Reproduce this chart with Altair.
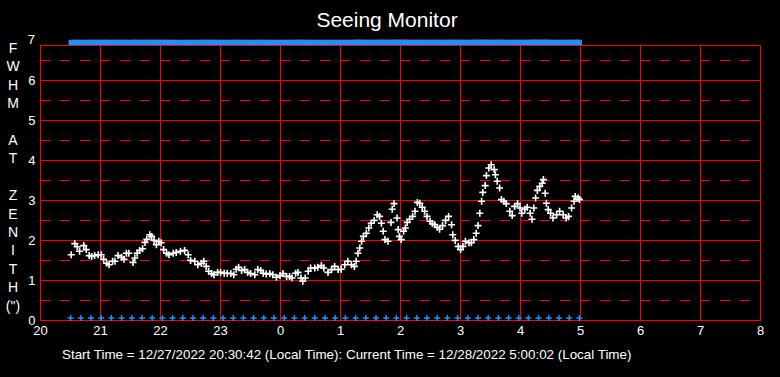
import altair as alt
import pandas as pd

TITLE = "Seeing Monitor"
FOOTER = "Start Time  =  12/27/2022  20:30:42 (Local Time): Current Time  =  12/28/2022 5:00:02  (Local Time)"
# vertical axis title, written one letter per line in three word blocks
Y_TITLE_WORDS = [["F", "W", "H", "M"], ["A", "T"], ["Z", "E", "N", "I", "T", "H", "(\")"]]
X_TICKS = list(range(20, 33))          # 20..23, 0..8 (hours past 24 wrap)
Y_TICKS = [0, 1, 2, 3, 4, 5, 6]
Y_TOP_LABEL = "7"
Y_HALF = [0.5, 1.5, 2.5, 3.5, 4.5, 5.5, 6.5]
HOURS = list(range(20, 32))

# FWHM samples (decimal local hour, >24 means after midnight)
TIME = [20.52, 20.58, 20.62, 20.66, 20.73, 20.77, 20.82, 20.86, 20.91, 20.97,
        21.02, 21.06, 21.11, 21.15, 21.21, 21.25, 21.30, 21.36, 21.40, 21.44,
        21.48, 21.55, 21.58, 21.62, 21.66, 21.71, 21.75, 21.78, 21.83, 21.86,
        21.90, 21.94, 21.98, 22.02, 22.06, 22.11, 22.15, 22.22, 22.27, 22.34,
        22.41, 22.47, 22.51, 22.58, 22.63, 22.69, 22.73, 22.77, 22.81, 22.86,
        22.90, 22.96, 23.01, 23.07, 23.12, 23.18, 23.23, 23.27, 23.31, 23.36,
        23.41, 23.46, 23.51, 23.58, 23.63, 23.68, 23.72, 23.77, 23.83, 23.88,
        23.94, 24.00, 24.05, 24.11, 24.16, 24.20, 24.26, 24.30, 24.35, 24.38,
        24.42, 24.47, 24.51, 24.58, 24.63, 24.69, 24.73, 24.80, 24.86, 24.91,
        24.97, 25.02, 25.08, 25.13, 25.19, 25.24, 25.27, 25.30, 25.33, 25.36,
        25.39, 25.44, 25.48, 25.52, 25.57, 25.62, 25.66, 25.69, 25.72, 25.75,
        25.80, 25.85, 25.87, 25.90, 25.95, 25.97, 25.99, 26.02, 26.06, 26.09,
        26.12, 26.16, 26.21, 26.25, 26.29, 26.33, 26.37, 26.41, 26.45, 26.50,
        26.54, 26.58, 26.62, 26.66, 26.71, 26.76, 26.81, 26.86, 26.88, 26.92,
        26.97, 27.01, 27.05, 27.09, 27.15, 27.19, 27.23, 27.27, 27.30, 27.33,
        27.36, 27.38, 27.42, 27.44, 27.48, 27.52, 27.57, 27.59, 27.62, 27.66,
        27.69, 27.73, 27.77, 27.83, 27.87, 27.91, 27.96, 28.00, 28.03, 28.08,
        28.12, 28.17, 28.20, 28.23, 28.26, 28.29, 28.33, 28.37, 28.39, 28.42,
        28.44, 28.47, 28.51, 28.55, 28.61, 28.66, 28.72, 28.77, 28.81, 28.86,
        28.90, 28.92, 28.97, 28.99]
FWHM = [1.63, 1.91, 1.83, 1.72, 1.86, 1.76, 1.61, 1.59, 1.61, 1.63,
        1.63, 1.52, 1.42, 1.38, 1.47, 1.47, 1.61, 1.57, 1.52, 1.67,
        1.67, 1.44, 1.55, 1.67, 1.74, 1.78, 1.94, 2.02, 2.13, 2.09,
        1.99, 1.88, 1.97, 1.93, 1.76, 1.67, 1.63, 1.67, 1.69, 1.72,
        1.74, 1.63, 1.49, 1.47, 1.38, 1.42, 1.47, 1.34, 1.22, 1.16,
        1.13, 1.19, 1.19, 1.17, 1.17, 1.16, 1.13, 1.27, 1.32, 1.24,
        1.26, 1.19, 1.16, 1.13, 1.26, 1.24, 1.17, 1.15, 1.16, 1.13,
        1.07, 1.11, 1.16, 1.09, 1.09, 1.05, 1.17, 1.19, 1.05, 0.97,
        1.05, 1.22, 1.30, 1.30, 1.32, 1.36, 1.30, 1.19, 1.26, 1.34,
        1.26, 1.27, 1.38, 1.47, 1.38, 1.34, 1.47, 1.67, 1.80, 1.97,
        2.09, 2.17, 2.30, 2.42, 2.49, 2.63, 2.59, 2.42, 2.22, 2.01,
        1.97, 2.44, 2.77, 2.91, 2.55, 2.26, 2.09, 2.01, 2.22, 2.30,
        2.44, 2.52, 2.59, 2.72, 2.94, 2.92, 2.82, 2.72, 2.59, 2.47,
        2.41, 2.38, 2.32, 2.27, 2.36, 2.49, 2.59, 2.38, 2.13, 1.99,
        1.84, 1.76, 1.84, 1.97, 1.93, 1.93, 2.01, 2.17, 2.36, 2.67,
        2.97, 3.19, 3.36, 3.61, 3.80, 3.88, 3.76, 3.63, 3.47, 3.30,
        3.01, 2.97, 2.91, 2.72, 2.61, 2.84, 2.91, 2.80, 2.67, 2.77,
        2.82, 2.67, 2.52, 2.80, 3.05, 3.24, 3.34, 3.42, 3.51, 3.17,
        2.92, 2.76, 2.67, 2.55, 2.63, 2.72, 2.63, 2.55, 2.59, 2.80,
        2.97, 3.09, 3.05, 3.01]

# Periodic status markers along the bottom
FLAG_TIME = [20.51, 20.68, 20.85, 21.02, 21.19, 21.36, 21.53, 21.70, 21.87, 22.04,
             22.21, 22.38, 22.55, 22.72, 22.89, 23.05, 23.22, 23.39, 23.56, 23.73,
             23.90, 24.07, 24.24, 24.41, 24.58, 24.75, 24.92, 25.09, 25.26, 25.43,
             25.60, 25.77, 25.94, 26.11, 26.28, 26.45, 26.62, 26.79, 26.96, 27.13,
             27.30, 27.47, 27.64, 27.81, 27.98, 28.14, 28.31, 28.48, 28.65, 28.82,
             28.99]
FLAG_LOW = 0.05
FLAG_HIGH = 6.94

RED = "#ff0000"
BLUE = "#1e90ff"
FONT = "Liberation Sans"
PLUS = "M-1,0L1,0M0,-1L0,1"
LINE_H = 18.4

xs = alt.Scale(domain=[20, 32], nice=False, zero=False)
ys = alt.Scale(domain=[0, 6.875], nice=False, zero=False)

df = pd.DataFrame({"t": TIME, "v": FWHM})
flags = pd.DataFrame({"t": FLAG_TIME, "v": [FLAG_LOW] * len(FLAG_TIME)})
top = pd.DataFrame({"t": TIME, "v": [FLAG_HIGH] * len(TIME)})
half = pd.DataFrame([{"h": h, "h2": h + 1, "y": y} for h in HOURS for y in Y_HALF])

x_axis = alt.Axis(values=X_TICKS, labelExpr="datum.value % 24", grid=True,
                  gridColor=RED, gridWidth=1, gridOpacity=1, domainColor=RED,
                  ticks=False, labelColor="white", labelFontSize=13, labelFont=FONT,
                  labelPadding=4, title=None, labelFlush=False)
y_axis = alt.Axis(values=Y_TICKS, grid=True, gridColor=RED, gridWidth=1, gridOpacity=1,
                  domainColor=RED, ticks=False, labelColor="white", labelFontSize=13,
                  labelFont=FONT, labelPadding=5, title=None, labelFlush=False)

dashes = alt.Chart(half).mark_rule(color=RED, strokeDash=[10, 10], strokeWidth=1,
                                   yOffset=0.5).encode(
    x=alt.X("h:Q", scale=xs, axis=x_axis), x2="h2:Q",
    y=alt.Y("y:Q", scale=ys, axis=y_axis))

pts = alt.Chart(df).mark_point(shape=PLUS, size=49, color="white", strokeWidth=1.6,
                               filled=False, opacity=1).encode(
    x=alt.X("t:Q", scale=xs), y=alt.Y("v:Q", scale=ys))

low = alt.Chart(flags).mark_point(shape=PLUS, size=36, color=BLUE, strokeWidth=1.5,
                                  filled=False, opacity=1).encode(
    x=alt.X("t:Q", scale=xs), y=alt.Y("v:Q", scale=ys))

high = alt.Chart(top).mark_point(shape="square", size=28, color=BLUE, filled=True,
                                 opacity=1).encode(
    x=alt.X("t:Q", scale=xs), y=alt.Y("v:Q", scale=ys))

def txt(s, x, y, size, align="center", **kw):
    return alt.Chart(pd.DataFrame({"s": [0]})).mark_text(
        text=s, color="white", font=FONT, fontSize=size, align=align,
        baseline="middle", **kw).encode(x=alt.value(x), y=alt.value(y))

title = txt(TITLE, 347, -24, 21)
footer = txt(FOOTER, 22, 310, 13.4, align="left")
ytitle = []
line = 0
for word in Y_TITLE_WORDS:
    ytitle.append(txt(word, -27, 4 + LINE_H * line, 14, lineHeight=LINE_H))
    line += len(word) + 1
seven = txt(Y_TOP_LABEL, -5, -5, 13, align="right")

chart = alt.layer(dashes, pts, low, high, title, footer, *ytitle, seven).properties(
    width=720, height=275,
    autosize=alt.AutoSizeParams(type="none"),
    padding={"left": 40, "top": 45, "right": 20, "bottom": 57},
    background="black",
).configure_view(stroke=RED, strokeWidth=1)

chart.save("out.html", embed_options={"renderer": "svg", "actions": False})
